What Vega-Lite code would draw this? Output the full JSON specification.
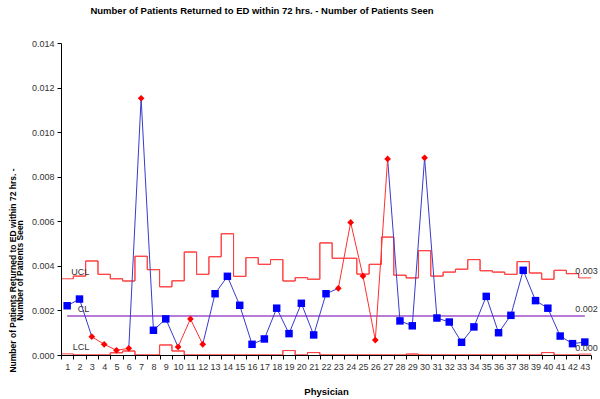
{
  "$schema": "https://vega.github.io/schema/vega-lite/v6.json",
  "width": 530,
  "height": 312,
  "autosize": {"type": "none"},
  "padding": {"left": 61, "top": 43, "right": 9, "bottom": 44},
  "background": "white",
  "title": {
    "text": "Number of Patients Returned to ED within 72 hrs. - Number of Patients Seen",
    "font": "Liberation Sans",
    "fontSize": 9.5,
    "fontWeight": "bold",
    "color": "#000000",
    "anchor": "middle",
    "dx": -64,
    "offset": 24
  },
  "config": {
    "view": {"stroke": null},
    "axis": {"grid": false, "domainColor": "#000000", "tickColor": "#000000", "labelFont": "Liberation Sans", "titleFont": "Liberation Sans", "labelColor": "#333333", "titleColor": "#000000"}
  },
  "datasets": {
    "main": [
      {"physician": 1, "rate": 0.00221, "ucl": 0.00342, "lcl": 0.00005, "status": "in", "b": "b1", "r": null},
      {"physician": 2, "rate": 0.00251, "ucl": 0.00354, "lcl": 0, "status": "in", "b": "b1", "r": null},
      {"physician": 3, "rate": 0.00082, "ucl": 0.00422, "lcl": 0, "status": "out", "b": "b1", "r": "r1"},
      {"physician": 4, "rate": 0.00048, "ucl": 0.00362, "lcl": 0, "status": "out", "b": null, "r": "r1"},
      {"physician": 5, "rate": 0.00021, "ucl": 0.00342, "lcl": 0.0001, "status": "out", "b": null, "r": "r1"},
      {"physician": 6, "rate": 0.0003, "ucl": 0.00332, "lcl": 0.00018, "status": "out", "b": "b2", "r": "r1"},
      {"physician": 7, "rate": 0.01152, "ucl": 0.00443, "lcl": 0, "status": "out", "b": "b2", "r": null},
      {"physician": 8, "rate": 0.00111, "ucl": 0.00383, "lcl": 0, "status": "in", "b": "b2", "r": null},
      {"physician": 9, "rate": 0.00162, "ucl": 0.00306, "lcl": 0.00045, "status": "in", "b": "b2", "r": null},
      {"physician": 10, "rate": 0.00036, "ucl": 0.00333, "lcl": 0.00018, "status": "out", "b": "b2", "r": "r2"},
      {"physician": 11, "rate": 0.00162, "ucl": 0.00462, "lcl": 0, "status": "out", "b": null, "r": "r2"},
      {"physician": 12, "rate": 0.00048, "ucl": 0.00362, "lcl": 0, "status": "out", "b": "b3", "r": "r2"},
      {"physician": 13, "rate": 0.00275, "ucl": 0.00441, "lcl": 0, "status": "in", "b": "b3", "r": null},
      {"physician": 14, "rate": 0.00353, "ucl": 0.00544, "lcl": 0, "status": "in", "b": "b3", "r": null},
      {"physician": 15, "rate": 0.00223, "ucl": 0.00353, "lcl": 0, "status": "in", "b": "b3", "r": null},
      {"physician": 16, "rate": 0.00048, "ucl": 0.00437, "lcl": 0, "status": "in", "b": "b3", "r": null},
      {"physician": 17, "rate": 0.00072, "ucl": 0.00407, "lcl": 0, "status": "in", "b": "b3", "r": null},
      {"physician": 18, "rate": 0.0021, "ucl": 0.00428, "lcl": 0, "status": "in", "b": "b3", "r": null},
      {"physician": 19, "rate": 0.00096, "ucl": 0.00332, "lcl": 0.0002, "status": "in", "b": "b3", "r": null},
      {"physician": 20, "rate": 0.00232, "ucl": 0.00347, "lcl": 0, "status": "in", "b": "b3", "r": null},
      {"physician": 21, "rate": 0.0009, "ucl": 0.0034, "lcl": 0.00011, "status": "in", "b": "b3", "r": null},
      {"physician": 22, "rate": 0.00275, "ucl": 0.00503, "lcl": 0, "status": "in", "b": "b3", "r": null},
      {"physician": 23, "rate": 0.00299, "ucl": 0.00434, "lcl": 0, "status": "out", "b": "b3", "r": "r3"},
      {"physician": 24, "rate": 0.00595, "ucl": 0.00434, "lcl": 0, "status": "out", "b": null, "r": "r3"},
      {"physician": 25, "rate": 0.00354, "ucl": 0.00363, "lcl": 0, "status": "out", "b": null, "r": "r3"},
      {"physician": 26, "rate": 0.00067, "ucl": 0.00407, "lcl": 0, "status": "out", "b": null, "r": "r3"},
      {"physician": 27, "rate": 0.0088, "ucl": 0.00529, "lcl": 0, "status": "out", "b": "b4", "r": "r3"},
      {"physician": 28, "rate": 0.00153, "ucl": 0.00358, "lcl": 0, "status": "in", "b": "b4", "r": null},
      {"physician": 29, "rate": 0.00131, "ucl": 0.00346, "lcl": 0.00004, "status": "in", "b": "b4", "r": null},
      {"physician": 30, "rate": 0.00885, "ucl": 0.00468, "lcl": 0, "status": "out", "b": "b4", "r": null},
      {"physician": 31, "rate": 0.00166, "ucl": 0.00354, "lcl": 0, "status": "in", "b": "b4", "r": null},
      {"physician": 32, "rate": 0.00148, "ucl": 0.00372, "lcl": 0, "status": "in", "b": "b4", "r": null},
      {"physician": 33, "rate": 0.00057, "ucl": 0.00385, "lcl": 0, "status": "in", "b": "b4", "r": null},
      {"physician": 34, "rate": 0.00126, "ucl": 0.00428, "lcl": 0, "status": "in", "b": "b4", "r": null},
      {"physician": 35, "rate": 0.00263, "ucl": 0.00378, "lcl": 0, "status": "in", "b": "b4", "r": null},
      {"physician": 36, "rate": 0.001, "ucl": 0.00372, "lcl": 0, "status": "in", "b": "b4", "r": null},
      {"physician": 37, "rate": 0.00178, "ucl": 0.00362, "lcl": 0, "status": "in", "b": "b4", "r": null},
      {"physician": 38, "rate": 0.0038, "ucl": 0.00419, "lcl": 0, "status": "in", "b": "b4", "r": null},
      {"physician": 39, "rate": 0.00244, "ucl": 0.00368, "lcl": 0, "status": "in", "b": "b4", "r": null},
      {"physician": 40, "rate": 0.0021, "ucl": 0.0034, "lcl": 0.00011, "status": "in", "b": "b4", "r": null},
      {"physician": 41, "rate": 0.00085, "ucl": 0.0038, "lcl": 0, "status": "in", "b": "b4", "r": null},
      {"physician": 42, "rate": 0.00051, "ucl": 0.00365, "lcl": 0, "status": "in", "b": "b4", "r": null},
      {"physician": 43, "rate": 0.00058, "ucl": 0.00346, "lcl": 0.00004, "status": "in", "b": "b4", "r": null}
    ],
    "labels": [
      {"physician": 1, "value": 0.00342, "label": "UCL", "side": "left"},
      {"physician": 1, "value": 0.00175, "label": "CL", "side": "left"},
      {"physician": 1, "value": 0.00005, "label": "LCL", "side": "left"},
      {"physician": 43, "value": 0.00346, "label": "0.003", "side": "right"},
      {"physician": 43, "value": 0.00175, "label": "0.002", "side": "right"},
      {"physician": 43, "value": 0.0, "label": "0.000", "side": "right"}
    ]
  },
  "data": {"name": "main"},
  "encoding": {
    "x": {
      "field": "physician",
      "type": "ordinal",
      "scale": {"type": "band", "paddingInner": 0, "paddingOuter": 0},
      "axis": {
        "title": "Physician",
        "titleFontSize": 9.5,
        "titleFontWeight": "bold",
        "titlePadding": 15,
        "labelAngle": 0,
        "labelFontSize": 9,
        "labelPadding": 3,
        "tickSize": 4,
        "tickBand": "extent",
        "zindex": 1
      }
    },
    "y": {
      "type": "quantitative",
      "scale": {"domain": [0, 0.014], "nice": false, "zero": true},
      "axis": {
        "title": ["Number of Patients Returned to ED within 72 hrs. -", "Number of Patients Seen"],
        "titleFontSize": 8.5,
        "titleFontWeight": "bold",
        "titleAngle": -90,
        "titleX": -53,
        "titleY": 227,
        "titleAlign": "center",
        "titleBaseline": "top",
        "titleLineHeight": 7.5,
        "values": [0, 0.002, 0.004, 0.006, 0.008, 0.01, 0.012, 0.014],
        "format": ".3f",
        "labelFontSize": 9,
        "labelPadding": 3,
        "tickSize": 4,
        "zindex": 1
      }
    }
  },
  "layer": [
    {
      "mark": {"type": "line", "interpolate": "step-after", "color": "#ff4040", "strokeWidth": 1},
      "encoding": {"x": {"field": "physician", "type": "ordinal", "bandPosition": 0}, "y": {"field": "ucl"}}
    },
    {
      "mark": {"type": "line", "interpolate": "step-before", "color": "#ff4040", "strokeWidth": 1},
      "encoding": {"x": {"field": "physician", "type": "ordinal", "bandPosition": 1}, "y": {"field": "ucl"}}
    },
    {
      "mark": {"type": "line", "interpolate": "step-after", "color": "#ff4040", "strokeWidth": 1},
      "encoding": {"x": {"field": "physician", "type": "ordinal", "bandPosition": 0}, "y": {"field": "lcl"}}
    },
    {
      "mark": {"type": "line", "interpolate": "step-before", "color": "#ff4040", "strokeWidth": 1},
      "encoding": {"x": {"field": "physician", "type": "ordinal", "bandPosition": 1}, "y": {"field": "lcl"}}
    },
    {
      "mark": {"type": "line", "color": "#a050c8", "strokeWidth": 1.5},
      "encoding": {"x": {"field": "physician", "type": "ordinal"}, "y": {"datum": 0.00175}}
    },
    {
      "transform": [{"filter": "isValid(datum.b)"}],
      "mark": {"type": "line", "color": "#3a3acc", "strokeWidth": 1},
      "encoding": {"x": {"field": "physician", "type": "ordinal"}, "y": {"field": "rate"}, "detail": {"field": "b"}}
    },
    {
      "transform": [{"filter": "isValid(datum.r)"}],
      "mark": {"type": "line", "color": "#ff3030", "strokeWidth": 1},
      "encoding": {"x": {"field": "physician", "type": "ordinal"}, "y": {"field": "rate"}, "detail": {"field": "r"}}
    },
    {
      "transform": [{"filter": "datum.status == 'in'"}],
      "mark": {"type": "point", "shape": "square", "filled": true, "color": "#0000ff", "size": 56, "opacity": 1},
      "encoding": {"x": {"field": "physician", "type": "ordinal"}, "y": {"field": "rate"}}
    },
    {
      "transform": [{"filter": "datum.status == 'out'"}],
      "mark": {"type": "point", "shape": "diamond", "filled": true, "color": "#ff0000", "size": 45, "opacity": 1},
      "encoding": {"x": {"field": "physician", "type": "ordinal"}, "y": {"field": "rate"}}
    },
    {
      "data": {"name": "labels"},
      "transform": [{"filter": "datum.side == 'left'"}],
      "mark": {"type": "text", "align": "right", "baseline": "bottom", "dx": 22, "dy": -2, "font": "Liberation Sans", "fontSize": 9, "color": "#333333"},
      "encoding": {"x": {"field": "physician", "type": "ordinal"}, "y": {"field": "value"}, "text": {"field": "label"}}
    },
    {
      "data": {"name": "labels"},
      "transform": [{"filter": "datum.side == 'right'"}],
      "mark": {"type": "text", "align": "left", "baseline": "bottom", "dx": -9.5, "dy": -2, "font": "Liberation Sans", "fontSize": 9, "color": "#333333"},
      "encoding": {"x": {"field": "physician", "type": "ordinal"}, "y": {"field": "value"}, "text": {"field": "label"}}
    }
  ]
}
